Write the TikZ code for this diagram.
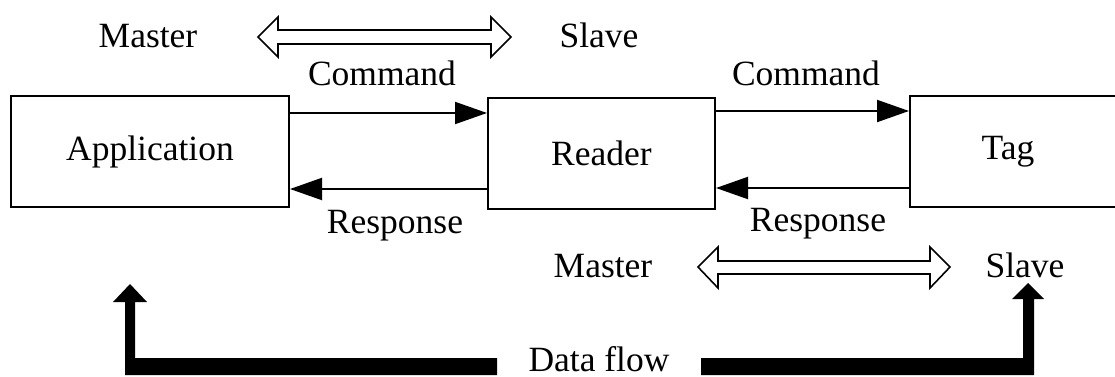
\documentclass[tikz,border=0pt]{standalone}
\usepackage{fontspec}
\setmainfont{Liberation Serif}
\usetikzlibrary{arrows.meta}

\tikzset{
  block/.style = {draw, line width = 1pt, inner sep = 0pt, minimum height = 55.5pt},
  msg/.style = {draw, line width = 1pt, -{Triangle[length = 16pt, width = 11pt]}},
  twoway/.style = {draw, line width = 0.8pt, fill = white, line join = miter},
  txt/.style = {anchor = base, inner sep = 0pt}
}

\begin{document}
\begin{tikzpicture}[x = 0.5pt, y = -0.5pt, font = \fontsize{17.75}{20}\selectfont]
    \useasboundingbox (0, 0) rectangle (1115, 376);

    % the three blocks
    \node[block, minimum width = 139pt] (app) at (150, 151.5) {Application};
    \node[block, minimum width = 113.5pt] (reader) at (601.5, 153.5) {Reader};
    \node[block, minimum width = 112pt] (tag) at (1022, 151.5) {\hspace*{-14pt}Tag};

    % command / response
    \draw[msg] (app.east |- 0, 113) -- (reader.west |- 0, 113);
    \draw[msg] (reader.west |- 0, 189) -- (app.east |- 0, 189);
    \draw[msg] (reader.east |- 0, 111) -- (tag.west |- 0, 111);
    \draw[msg] (tag.west |- 0, 188) -- (reader.east |- 0, 188);

    \node[txt] (cmd1) at (382, 85) {Command};
    \node[txt] (cmd2) at (806, 85) {Command};
    \node[txt] (resp1) at (395, 233) {Response};
    \node[txt] (resp2) at (818, 231) {Response};

    % master / slave pairs
    \node[txt] (master1) at (148, 47) {Master};
    \node[txt] (slave1) at (599, 47) {Slave};
    \node[txt] (master2) at (603, 277) {Master};
    \node[txt] (slave2) at (1025, 277) {Slave};

    \draw[twoway] (258, 37) -- ++(20, -20) -- ++(0, 13) -- ++(213, 0) -- ++(0, -13)
      -- ++(20, 20) -- ++(-20, 20) -- ++(0, -13) -- ++(-213, 0) -- ++(0, 13) -- cycle;
    \draw[twoway] (698, 267) -- ++(20, -20) -- ++(0, 14) -- ++(212, 0) -- ++(0, -14)
      -- ++(20, 20) -- ++(-20, 21) -- ++(0, -14) -- ++(-212, 0) -- ++(0, 14) -- cycle;

    % data flow
    \node[txt] (flow) at (599, 371) {Data flow};
    \fill (497, 358) -- (135, 358) -- (135, 302) -- (147, 302) -- (130, 284)
      -- (113, 302) -- (125, 302) -- (125, 375) -- (497, 375) -- cycle;
    \fill (701, 358) -- (1023, 358) -- (1023, 299) -- (1012, 299) -- (1028, 283)
      -- (1044, 299) -- (1034, 299) -- (1034, 375) -- (701, 375) -- cycle;

  \end{tikzpicture}
\end{document}
